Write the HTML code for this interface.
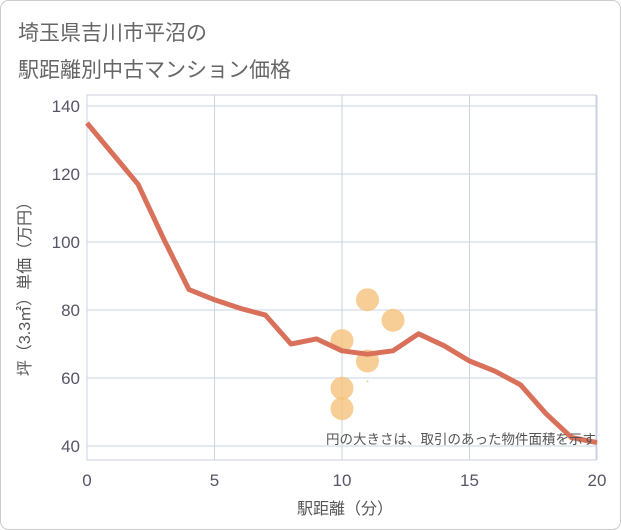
<!DOCTYPE html>
<html><head><meta charset="utf-8"><style>
body{margin:0;background:#fff;}
svg{display:block;font-family:"Liberation Sans","Noto Sans CJK JP",sans-serif;}
</style></head><body>
<svg id="c" width="621" height="530">
<rect x="0.5" y="0.5" width="620" height="529" rx="8" fill="#fff" stroke="#ccc"/>
<text x="18" y="40" font-size="21" fill="#666">埼玉県吉川市平沼の</text>
<text x="18" y="77" font-size="21" fill="#666">駅距離別中古マンション価格</text>
<g id="plot"></g>
<text x="345" y="514" font-size="16" fill="#555" text-anchor="middle">駅距離（分）</text>
<text transform="translate(30,285) rotate(-90)" font-size="16" fill="#555" text-anchor="middle">坪（3.3㎡）単価（万円）</text>
<text x="596" y="444" font-size="13.5" fill="#555" text-anchor="end">円の大きさは、取引のあった物件面積を示す</text>
</svg>
<script>
const lineX=[0,1,2,3,4,5,6,7,8,9,10,11,12,13,14,15,16,17,18,19,20];
const lineY=[135,126,117,101,86,83,80.5,78.5,70,71.5,68,67,68,73,69.5,65,62,58,49.5,42.5,41];
const bubbleX=[10,11,12,11,10,10,11];
const bubbleY=[71,83,77,65,57,51,59];
const bubbleR=[11.5,11.5,11.5,11.5,11.5,11.5,1];
const xTicks=[0,5,10,15,20];
const yTicks=[40,60,80,100,120,140];
const NS="http://www.w3.org/2000/svg";
const X=v=>87+v*25.5;
const Y=v=>446-(v-40)*3.4;
const g=document.getElementById('plot');
function mk(t,a){const e=document.createElementNS(NS,t);for(const k in a)e.setAttribute(k,a[k]);g.appendChild(e);return e;}
let f=mk('rect',{x:87,y:95,width:509,height:365,fill:'none',stroke:'#ccd'});


yTicks.forEach(v=>{
 let l=mk('line',{x1:87,x2:596,y1:Y(v),y2:Y(v),stroke:'#c8d6e6'});
 
 
 let t=mk('text',{x:80,y:Y(v)+6,'font-size':17,fill:'#556','text-anchor':'end'});t.textContent=v;
 
 
});
xTicks.forEach(v=>{
 let l=mk('line',{x1:X(v),x2:X(v),y1:95,y2:460,stroke:'#c8d6e6'});
 
 
 let t=mk('text',{x:X(v),y:486,'font-size':17,fill:'#556','text-anchor':'middle'});t.textContent=v;
 
 
});
bubbleX.forEach((v,i)=>{
 let c=mk('circle',{cx:X(v),cy:Y(bubbleY[i]),r:bubbleR[i],fill:'#f5c27a','fill-opacity':0.8});
 
 
});
let p=mk('polyline',{points:lineX.map((v,i)=>X(v)+','+Y(lineY[i])).join(' '),fill:'none',stroke:'#d9705a','stroke-width':5,'stroke-linejoin':'round'});


</script>
</body></html>
